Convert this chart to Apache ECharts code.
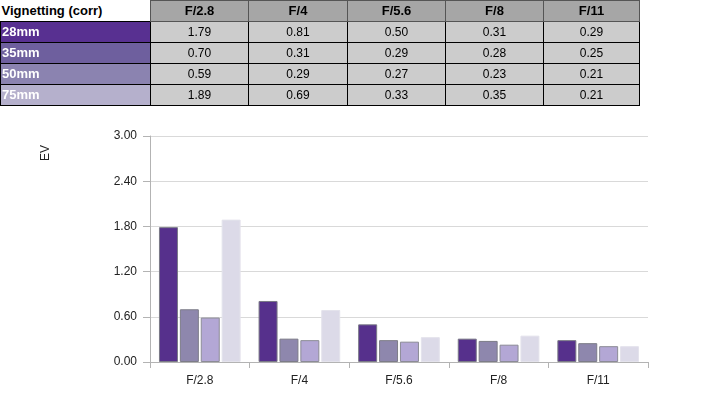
<!DOCTYPE html>
<html>
<head>
<meta charset="utf-8">
<script src="https://cdn.jsdelivr.net/npm/echarts@6/dist/echarts.min.js"></script>
<style>
html,body{margin:0;padding:0;background:#fff;}
#chart{position:absolute;left:0;top:0;width:724px;height:401px;}
#tbl{position:absolute;left:0;top:0;border-collapse:collapse;table-layout:fixed;font-family:"Liberation Sans",Arial,sans-serif;font-size:12px;z-index:2;}
#tbl td{height:20px;line-height:20px;padding:0;border:1px solid #000;text-align:center;color:#000;white-space:nowrap;overflow:hidden;}
#tbl td.corner{border:none;border-right:1px solid #555;text-align:left;font-weight:bold;font-size:13px;padding-left:1px;background:#fff;}
#tbl td.hdr{background:#a6a6a6;font-weight:bold;font-size:13px;border-color:#555;}
#tbl td.rh{color:#fff;font-weight:bold;font-size:13px;text-align:left;padding-left:1px;}
#tbl td.val{background:#cccccc;}
</style>
</head>
<body>
<div id="chart"></div>
<table id="tbl"></table>
<script>
var title = "Vignetting (corr)";
var categories = ["F/2.8", "F/4", "F/5.6", "F/8", "F/11"];
var seriesNames = ["28mm", "35mm", "50mm", "75mm"];
var v28 = [1.79, 0.81, 0.50, 0.31, 0.29];
var v35 = [0.70, 0.31, 0.29, 0.28, 0.25];
var v50 = [0.59, 0.29, 0.27, 0.23, 0.21];
var v75 = [1.89, 0.69, 0.33, 0.35, 0.21];
var yTicks = [0, 0.6, 1.2, 1.8, 2.4, 3.0];
var yName = "EV";

var allValues = [v28, v35, v50, v75];
var barColors = ["#56308c", "#8e87ad", "#b3a7d5", "#dcdae8"];
var barBorders = ["#7a7a86", "#7d7d88", "#8c8c96", "#e4e3ec"];
var rowHeadColors = ["#583091", "#6e5f9e", "#8b83b0", "#b5b0cc"];
var colWidths = [150, 98, 99, 98, 98, 96];

// build table
var tbl = document.getElementById('tbl');
var cg = document.createElement('colgroup');
colWidths.forEach(function(w){ var c=document.createElement('col'); c.style.width=w+'px'; cg.appendChild(c); });
tbl.appendChild(cg);
var tr = document.createElement('tr');
var td = document.createElement('td'); td.className='corner'; td.textContent=title; tr.appendChild(td);
categories.forEach(function(c){ var t=document.createElement('td'); t.className='hdr'; t.textContent=c; tr.appendChild(t); });
tbl.appendChild(tr);
seriesNames.forEach(function(n,i){
  var r=document.createElement('tr');
  var h=document.createElement('td'); h.className='rh'; h.style.background=rowHeadColors[i]; h.textContent=n; r.appendChild(h);
  allValues[i].forEach(function(v){ var t=document.createElement('td'); t.className='val'; t.textContent=v.toFixed(2); r.appendChild(t); });
  tbl.appendChild(r);
});

var chart = echarts.init(document.getElementById('chart'), null, {renderer:'canvas'});
var font = '"Liberation Sans", Arial, sans-serif';
chart.setOption({
  animation:false,
  textStyle:{fontFamily:font},
  grid:{left:150, right:76, top:136, bottom:39, containLabel:false},
  xAxis:{
    type:'category', data:categories,
    axisLine:{lineStyle:{color:'#b3b3b3', width:1}},
    axisTick:{show:true, length:6, alignWithLabel:false, lineStyle:{color:'#b3b3b3'}},
    axisLabel:{color:'#222', fontSize:12, margin:13, fontFamily:font}
  },
  yAxis:{
    type:'value', min:yTicks[0], max:yTicks[yTicks.length-1], interval:0.6,
    axisLine:{show:true, lineStyle:{color:'#b3b3b3'}},
    axisTick:{show:true, length:7, lineStyle:{color:'#b3b3b3'}},
    axisLabel:{color:'#222', fontSize:12, margin:13, fontFamily:font, formatter:function(v){return v.toFixed(2);}},
    splitLine:{lineStyle:{color:'#d9d9d9'}}
  },
  graphic:[{
    type:'text', left:40, top:145, rotation:Math.PI/2,
    style:{text:yName, fill:'#222', font:'12px '+font}
  }],
  series: seriesNames.map(function(n,i){
    return {
      name:n, type:'bar', data:allValues[i],
      barGap:'10%', barCategoryGap:'18%',
      itemStyle:{color:barColors[i], borderColor:barBorders[i], borderWidth:1}
    };
  })
});
</script>
</body>
</html>
